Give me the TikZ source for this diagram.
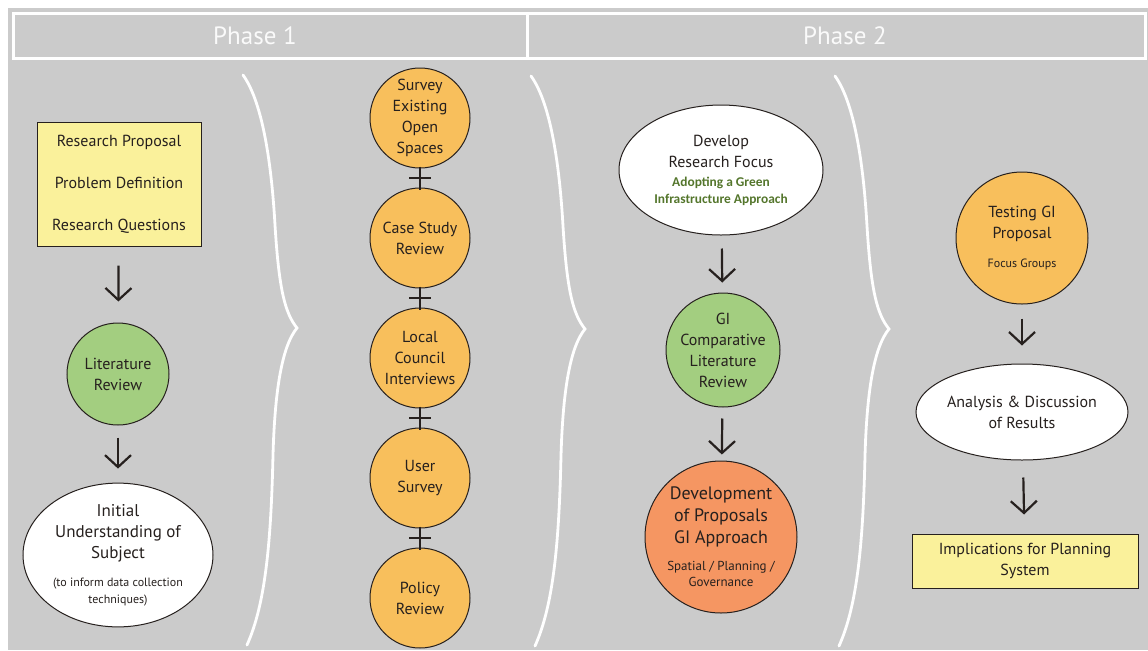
\documentclass[tikz,border=0pt]{standalone}
\usepackage{fontspec}
\setmainfont{PT Sans}
\newfontfamily\greenfont{Carlito}
\usetikzlibrary{arrows.meta,calc,shapes.geometric}

\definecolor{bggrey}{RGB}{203,203,203}
\definecolor{boxyellow}{RGB}{250,241,155}
\definecolor{circgreen}{RGB}{163,206,128}
\definecolor{circorange}{RGB}{248,191,92}
\definecolor{circred}{RGB}{245,150,98}
\definecolor{inkdark}{RGB}{38,32,30}
\definecolor{textgreen}{RGB}{84,118,44}

% small and green lines inside the nodes
\newcommand\smalltxt[1]{{\fontsize{6}{8}\selectfont #1}}
\newcommand\greentxt[1]{{\greenfont\bfseries\fontsize{6.7}{8.5}\selectfont\color{textgreen}#1}}

% one phase bracket, drawn from its top end
\newcommand\phasebrace[1]{%
  \draw[bracket, shift={(#1)}] (0,0) .. controls (18,25) and (28,80) .. (32,150)
    .. controls (36,215) and (42,238) .. (54,253)
    .. controls (40,270) and (32,310) .. (30,380)
    .. controls (28,470) and (22,530) .. (4,570);}

\begin{document}
\begin{tikzpicture}[x=0.5pt,y=-0.5pt,
    every node/.style={font=\fontsize{8}{10.5}\selectfont, text=inkdark, align=center, inner sep=0pt},
    outline/.style={draw=inkdark, line width=0.5pt},
    yellowbox/.style={outline, fill=boxyellow},
    greencirc/.style={outline, circle, fill=circgreen},
    orangecirc/.style={outline, circle, fill=circorange},
    whiteoval/.style={outline, ellipse, fill=white},
    phase/.style={font=\fontsize{12.5}{15}\selectfont, text=white!96!gray},
    arr/.style={draw=inkdark, line width=1.1pt, -{Straight Barb[length=6pt,width=13pt]}},
    plusbar/.style={draw=inkdark, line width=1.2pt},
    bracket/.style={white, line width=1.4pt, line cap=round}]
    \useasboundingbox (0,0) rectangle (1148,650);
    \fill[white] (0,0) rectangle (1148,650);
    \fill[bggrey] (8,8) rectangle (1148,650);

    % header
    \draw[white, line width=1.5pt] (13,13) rectangle (527,58) (527,13) rectangle (1145,58);
    \node[phase] (ph1) at (255,36) {Phase 1};
    \node[phase] (ph2) at (845,36) {Phase 2};

    % brackets between the columns
    \phasebrace{243,75}
    \phasebrace{531,76}
    \phasebrace{835,76}

    % column 1
    \node[yellowbox, minimum width=82pt, minimum height=62pt] (prop) at (119,184)
        {Research Proposal\\[10.5pt]Problem Definition\\[10.5pt]Research Questions};
    \node[greencirc, minimum size=51pt] (lit) at (118,374) {Literature\\Review};
    \node[whiteoval, minimum width=95pt, minimum height=65pt, font=\fontsize{8.5}{10.5}\selectfont] (init) at (118,555)
        {Initial\\Understanding of\\Subject\\[3.5pt]
         \smalltxt{(to inform data collection}\\[-2pt]\smalltxt{techniques)}};
    \draw[arr, shorten <=9.5pt, shorten >=10.5pt] (prop) -- (lit);
    \draw[arr, shorten <=6pt, shorten >=7pt] (lit) -- (init);

    % column 2
    \node[orangecirc, minimum size=50pt] (s1) at (420,118) {Survey\\Existing\\Open\\Spaces};
    \node[orangecirc, minimum size=50pt] (s2) at (420,238) {Case Study\\Review};
    \node[orangecirc, minimum size=50pt] (s3) at (420,358) {Local\\Council\\Interviews};
    \node[orangecirc, minimum size=50pt] (s4) at (420,478) {User\\Survey};
    \node[orangecirc, minimum size=50pt] (s5) at (420,598) {Policy\\Review};
    \draw[plusbar, shorten <=-1pt, shorten >=-1pt] (s1) -- (s2) coordinate[midway] (p1);
    \draw[plusbar, shorten <=-1pt, shorten >=-1pt] (s2) -- (s3) coordinate[midway] (p2);
    \draw[plusbar, shorten <=-1pt, shorten >=-1pt] (s3) -- (s4) coordinate[midway] (p3);
    \draw[plusbar, shorten <=-1pt, shorten >=-1pt] (s4) -- (s5) coordinate[midway] (p4);
    \foreach \p in {p1,p2,p3,p4}
        \draw[plusbar] ($(\p)+(-11,0)$) -- ($(\p)+(11,0)$);

    % column 3
    \node[whiteoval, minimum width=102pt, minimum height=65pt] (focus) at (721,170)
        {Develop\\Research Focus\\[-1pt]
         \greentxt{Adopting a Green}\\[-2pt]\greentxt{Infrastructure Approach}};
    \node[greencirc, minimum size=57pt] (gi) at (723,350) {GI\\Comparative\\Literature\\Review};
    \node[outline, circle, fill=circred, minimum size=76pt, font=\fontsize{9}{11}\selectfont] (dev) at (721,537)
        {Development\\of Proposals\\GI Approach\\[2.5pt]
         \smalltxt{\fontsize{6.5}{8}\selectfont Spatial / Planning /}\\[-3pt]\smalltxt{\fontsize{6.5}{8}\selectfont Governance}};
    \draw[arr, shorten <=6.5pt, shorten >=5pt] (focus) -- (gi);
    \draw[arr, shorten <=5.5pt, shorten >=3pt] (gi) -- (dev);

    % column 4
    \node[orangecirc, minimum size=66pt] (test) at (1022,238)
        {Testing GI\\Proposal\\[4pt]\smalltxt{Focus Groups}};
    \node[whiteoval, minimum width=106pt, minimum height=48pt] (anal) at (1022,412)
        {Analysis \& Discussion\\of Results};
    \node[yellowbox, minimum width=113pt, minimum height=27pt] (impl) at (1025,561)
        {Implications for Planning\\System};
    \draw[arr, shorten <=7pt, shorten >=9pt] (test) -- (anal);
    \draw[arr, shorten <=8.5pt, shorten >=9.5pt] (anal) -- (impl);
\end{tikzpicture}
\end{document}
